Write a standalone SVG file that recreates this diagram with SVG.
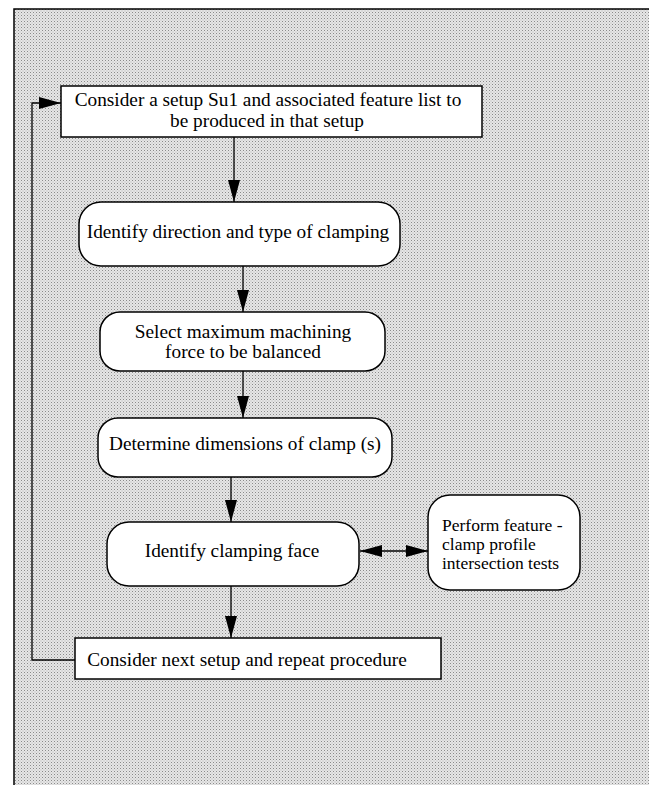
<svg xmlns="http://www.w3.org/2000/svg" width="649" height="785" viewBox="0 0 649 785">
<defs>
<pattern id="stip" width="3" height="3" patternUnits="userSpaceOnUse">
<rect width="3" height="3" fill="#e6e6e6"/>
<rect x="0" y="0" width="1" height="1" fill="#8a8a8a"/>
<rect x="1.5" y="1.5" width="1" height="1" fill="#b4b4b4"/>
</pattern>
<marker id="ah" viewBox="0 0 22 12" refX="22" refY="6" markerWidth="22" markerHeight="12" markerUnits="userSpaceOnUse" orient="auto-start-reverse">
<path d="M0,0 L22,6 L0,12 z" fill="#000"/>
</marker>
<style>
.box{fill:#fff;stroke:#000;stroke-width:1.5}
.t{font-family:"Liberation Serif","Times New Roman",serif;font-size:19.3px;fill:#000;text-anchor:middle}
.ts{font-family:"Liberation Serif","Times New Roman",serif;font-size:17.5px;fill:#000}
.c{fill:none;stroke:#000;stroke-width:1.3}
</style>
</defs>
<rect x="0" y="0" width="649" height="785" fill="#fff"/>
<rect x="14" y="9" width="640" height="790" fill="url(#stip)" stroke="#000" stroke-width="1.5"/>

<g id="connectors">
<line class="c" x1="234" y1="137" x2="234" y2="202" marker-end="url(#ah)"/>
<line class="c" x1="243" y1="266" x2="243" y2="312" marker-end="url(#ah)"/>
<line class="c" x1="243" y1="371" x2="243" y2="418" marker-end="url(#ah)"/>
<line class="c" x1="231" y1="477" x2="231" y2="522" marker-end="url(#ah)"/>
<line class="c" x1="231" y1="586" x2="231" y2="638" marker-end="url(#ah)"/>
<line class="c" x1="360" y1="551" x2="428" y2="551" marker-start="url(#ah)" marker-end="url(#ah)"/>
<polyline class="c" points="75,660 32,660 32,103 61,103" marker-end="url(#ah)"/>
</g>

<g id="n1">
<rect class="box" x="61" y="86" width="421" height="51"/>
<text class="t" x="268" y="106">Consider a setup Su1 and associated feature list to</text>
<text class="t" x="267" y="127">be produced in that setup</text>
</g>
<g id="n2">
<rect class="box" x="79" y="202" width="321" height="64" rx="22"/>
<text class="t" x="238" y="238">Identify direction and type of clamping</text>
</g>
<g id="n3">
<rect class="box" x="100" y="312" width="285" height="59" rx="20"/>
<text class="t" x="243" y="338">Select maximum machining</text>
<text class="t" x="243" y="358">force to be balanced</text>
</g>
<g id="n4">
<rect class="box" x="98" y="418" width="294" height="59" rx="20"/>
<text class="t" x="245" y="450">Determine dimensions of clamp (s)</text>
</g>
<g id="n5">
<rect class="box" x="107" y="522" width="252" height="64" rx="22"/>
<text class="t" x="232" y="557">Identify clamping face</text>
</g>
<g id="n6">
<rect class="box" x="428" y="495" width="152" height="95" rx="22"/>
<text class="ts" x="442" y="531">Perform feature -</text>
<text class="ts" x="442" y="550">clamp profile</text>
<text class="ts" x="442" y="569">intersection tests</text>
</g>
<g id="n7">
<rect class="box" x="75" y="638" width="366" height="41"/>
<text class="t" x="247" y="666">Consider next setup and repeat procedure</text>
</g>
</svg>
